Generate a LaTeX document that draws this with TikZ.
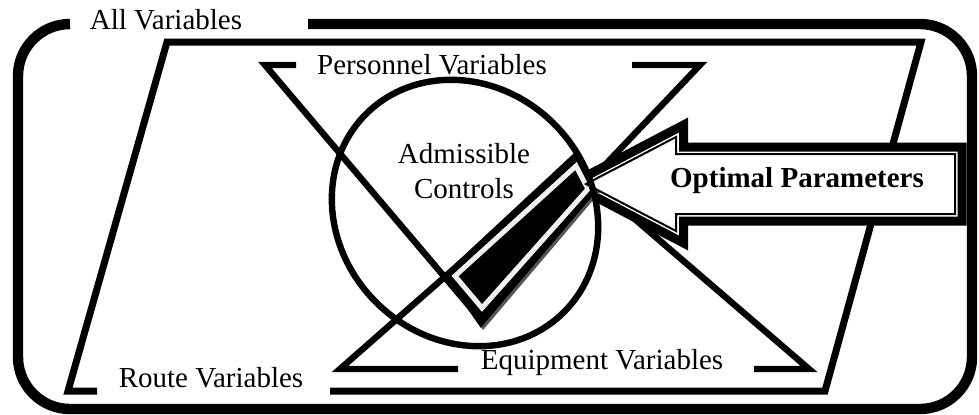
\documentclass[tikz,border=0pt]{standalone}
\usepackage{fontspec}
\setmainfont{Liberation Serif}
\usetikzlibrary{positioning}
\definecolor{CheckGrey}{HTML}{F0F0F0}
\definecolor{ShadowGrey}{HTML}{555555}

\tikzset{
  frameline/.style={line width=5.2pt},
  setline/.style={line width=3.5pt},
  xline/.style={line width=3.2pt},
  lbl/.style={font=\fontsize{14.5}{17.5}\selectfont,inner sep=0pt,anchor=base},
}

\begin{document}
\begin{tikzpicture}[x=0.5pt,y=-0.5pt]
  \useasboundingbox (0,0) rectangle (979,414);
  % outer frame, left open for its label
  \draw[frameline,rounded corners=26pt] (308,24) -- (972,24) -- (972,409) -- (18,409) -- (18,24) -- (70,24);
  \node[lbl] (allvar) at (166,29) {All Variables};
  % parallelogram
  \draw[setline] (330,391) -- (825,391) -- (921,42) -- (167,42) -- (68,391) -- (97,391);
  \node[lbl] (route) at (211,387) {Route Variables};
  % the two triangles
  \draw[xline] (296,65) -- (265,65) -- (470,307) -- (700,65) -- (632,65);
  \draw[xline] (458,369) -- (340,369) -- (572,165) -- (809,369) -- (754,369);
  \node[lbl] (personnel) at (432,74) {Personnel Variables};
  \node[lbl] (equip) at (602,369) {Equipment Variables};
  % arrow, outer border
  \draw[line width=4.5pt,fill=white] (571,184) -- (683.5,125) -- (683.5,147) -- (962,147) -- (962,221) -- (683.5,221) -- (683.5,243) -- cycle;
  % check mark
  \fill[ShadowGrey] (445,277) -- (576,152) -- (600,192) -- (483,330) -- cycle;
  \draw[line width=3.5pt,fill=black] (448,275) -- (575,157) -- (593,190) -- (481,322) -- cycle;
  \draw[line width=2.5pt,CheckGrey] (455,276) -- (576,166) -- (588,189) -- (482,308) -- cycle;
  % arrow, inner line
  \draw[line width=1pt,fill=white] (586,184) -- (676,137) -- (676,154) -- (955,154) -- (955,214) -- (676,214) -- (676,231) -- cycle;
  \node[lbl,font=\fontsize{14.5}{17.5}\selectfont\bfseries] (optimal) at (797,187) {Optimal Parameters};
  % admissible set
  \begin{scope}[shift={(465,213)},rotate=-45]
    \draw[xline] (0,0) ellipse [x radius=140,y radius=126];
  \end{scope}
  \node[lbl,align=center] (controls) at (464,198) {Admissible\\Controls};
\end{tikzpicture}
\end{document}
